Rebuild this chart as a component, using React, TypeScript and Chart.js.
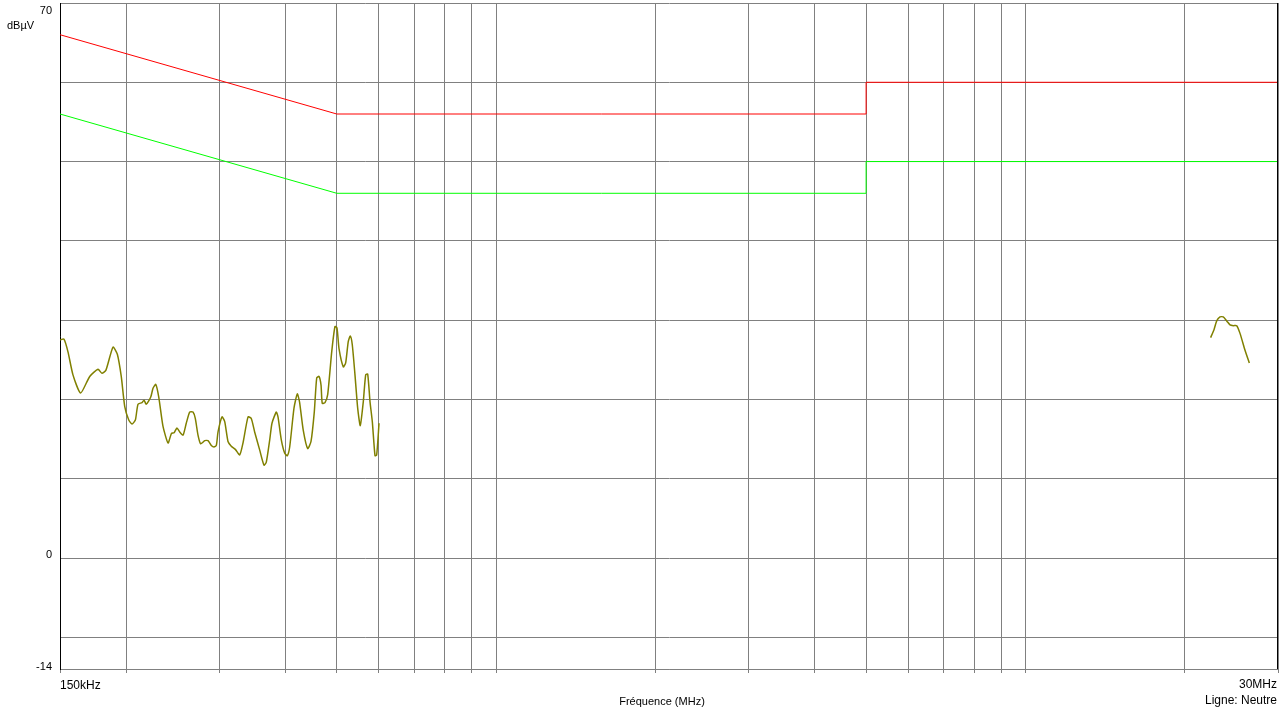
import React, { useEffect, useRef } from 'react';
import { Chart, registerables } from 'chart.js';

Chart.register(...registerables);

// Limit lines (MHz, dBµV)
const limitQPFreq = [0.15, 0.5, 5, 5, 30];
const limitQPLevel = [66, 56, 56, 60, 60];
const limitAVFreq = [0.15, 0.5, 5, 5, 30];
const limitAVLevel = [56, 46, 46, 50, 50];

// Measured trace, low band (MHz, dBµV)
const traceLowFreq = [
  0.150, 0.1526, 0.1553, 0.1587, 0.1641, 0.1707, 0.1770, 0.1800, 0.1832, 0.1889,
  0.1925, 0.1958, 0.1988, 0.2023, 0.2052, 0.2082, 0.2106, 0.2143, 0.2162, 0.2183,
  0.2226, 0.2248, 0.2275, 0.2305, 0.2348, 0.2400, 0.2435, 0.2464, 0.2495, 0.2525,
  0.2562, 0.2598, 0.2637, 0.2675, 0.2702, 0.2734, 0.2766, 0.2815, 0.2856, 0.2897,
  0.2931, 0.2961, 0.2983, 0.3035, 0.3071, 0.3115, 0.3160, 0.3216, 0.3278, 0.3325,
  0.3399, 0.3447, 0.3498, 0.3576, 0.3643, 0.3680, 0.3735, 0.3772, 0.3843, 0.3872,
  0.3928, 0.3987, 0.4032, 0.4074, 0.4151, 0.4211, 0.4252, 0.4322, 0.4406, 0.4470,
  0.4534, 0.4582, 0.4628, 0.4669, 0.4694, 0.4750, 0.4806, 0.4891, 0.4961, 0.5005,
  0.5049, 0.5144, 0.5197, 0.5256, 0.5303, 0.5349, 0.5412, 0.5476, 0.5538, 0.5611,
  0.5670, 0.5720, 0.5778, 0.5836, 0.5905, 0.5948, 0.6009,
];
const traceLowLevel = [
  27.5, 27.6, 26.0, 23.1, 20.8, 22.9, 23.8, 23.3, 23.7, 26.6,
  25.7, 22.9, 19.1, 17.4, 16.9, 17.4, 19.4, 19.6, 19.9, 19.4,
  20.3, 21.4, 21.9, 20.3, 16.6, 14.5, 15.7, 15.8, 16.4, 15.9,
  15.5, 17.0, 18.4, 18.4, 17.6, 15.5, 14.4, 14.8, 14.8, 14.2,
  14.0, 14.2, 15.9, 17.8, 17.2, 14.7, 14.1, 13.7, 13.0, 14.5,
  17.8, 17.6, 15.9, 13.6, 11.7, 12.1, 14.9, 17.0, 18.4, 17.8,
  14.9, 13.2, 12.9, 14.0, 18.9, 20.7, 19.7, 16.1, 13.8, 14.7,
  18.4, 22.7, 22.9, 21.8, 19.5, 19.6, 20.6, 26.0, 29.2, 29.0,
  26.4, 24.1, 24.6, 27.3, 28.0, 26.9, 23.1, 18.9, 16.7, 19.7,
  23.1, 23.2, 19.7, 17.2, 12.9, 13.0, 17.0,
];

// Measured trace, high band (MHz, dBµV)
const traceHighFreq = [22.38, 22.71, 22.98, 23.31, 23.64, 24.0, 24.35, 24.7, 25.07, 25.44, 25.99, 26.48];
const traceHighLevel = [27.8, 28.8, 29.9, 30.4, 30.4, 29.9, 29.4, 29.3, 29.3, 28.3, 26.2, 24.6];

// Axes
const xMin = 0.15;
const xMax = 30;
const yMin = -14;
const yMax = 70;
const xGridTicks = [0.15, 0.2, 0.3, 0.4, 0.5, 0.6, 0.7, 0.8, 0.9, 1, 2, 3, 4, 5, 6, 7, 8, 9, 10, 20, 30];
const yGridTicks = [-14, -10, 0, 10, 20, 30, 40, 50, 60, 70];
const yLabelValues = [70, 0, -14];
const xStartLabel = '150kHz';
const xEndLabel = '30MHz';
const xTitle = 'Fréquence (MHz)';
const yUnit = 'dBµV';
const lineLabel = 'Ligne: Neutre';

const toPoints = (xs: number[], ys: number[]) => xs.map((x, i) => ({ x, y: ys[i] }));

const FONT = '"Liberation Sans", Arial, Helvetica, sans-serif';

const textPlugin = {
  id: 'emcText',
  afterDraw(chart: any) {
    const { ctx, chartArea, scales } = chart;
    const xs = scales.x;
    const ys = scales.y;
    ctx.save();
    // frame: right border in black
    ctx.strokeStyle = '#000000';
    ctx.lineWidth = 1;
    ctx.beginPath();
    ctx.moveTo(Math.round(chartArea.right) - 0.5, chartArea.top);
    ctx.lineTo(Math.round(chartArea.right) - 0.5, chartArea.bottom);
    ctx.stroke();

    ctx.fillStyle = '#000000';
    ctx.font = `11px ${FONT}`;
    ctx.textAlign = 'right';
    ctx.textBaseline = 'middle';
    yLabelValues.forEach((v) => {
      let off = -3;
      if (v === yMax) off = 8;
      if (v === yMin) off = -2;
      ctx.fillText(String(v), chartArea.left - 8, ys.getPixelForValue(v) + off);
    });
    ctx.textAlign = 'left';
    ctx.fillText(yUnit, 7, chartArea.top + 23);

    ctx.font = `12px ${FONT}`;
    ctx.textAlign = 'left';
    ctx.fillText(xStartLabel, xs.getPixelForValue(xMin), chartArea.bottom + 17);
    ctx.textAlign = 'right';
    ctx.fillText(xEndLabel, xs.getPixelForValue(xMax) - 1, chartArea.bottom + 16);
    ctx.fillText(lineLabel, xs.getPixelForValue(xMax) - 1, chartArea.bottom + 32);
    ctx.font = `11px ${FONT}`;
    ctx.textAlign = 'center';
    ctx.fillText(xTitle, (chartArea.left + chartArea.right) / 2 - 7, chartArea.bottom + 33);
    ctx.restore();
  },
};

export default function App() {
  const canvasRef = useRef<HTMLCanvasElement | null>(null);

  useEffect(() => {
    document.body.style.margin = '0';
    const canvas = canvasRef.current;
    if (!canvas) return;
    const chart = new Chart(canvas, {
      type: 'line',
      data: {
        datasets: [
          {
            label: 'QP limit',
            data: toPoints(limitQPFreq, limitQPLevel),
            borderColor: '#ff0000',
            borderWidth: 1,
            pointRadius: 0,
            fill: false,
            tension: 0,
          },
          {
            label: 'AV limit',
            data: toPoints(limitAVFreq, limitAVLevel),
            borderColor: '#00ff00',
            borderWidth: 1,
            pointRadius: 0,
            fill: false,
            tension: 0,
          },
          {
            label: 'Trace low',
            data: toPoints(traceLowFreq, traceLowLevel),
            borderColor: '#808000',
            borderWidth: 1.5,
            pointRadius: 0,
            fill: false,
            tension: 0.2,
          },
          {
            label: 'Trace high',
            data: toPoints(traceHighFreq, traceHighLevel),
            borderColor: '#808000',
            borderWidth: 1.5,
            pointRadius: 0,
            fill: false,
            tension: 0.2,
          },
        ],
      },
      options: {
        responsive: false,
        animation: false,
        devicePixelRatio: 1,
        layout: { padding: { left: 0, right: 10, top: 3, bottom: 0 } },
        plugins: {
          legend: { display: false },
          tooltip: { enabled: false },
          title: { display: false },
        },
        scales: {
          x: {
            type: 'logarithmic',
            min: xMin,
            max: xMax,
            afterBuildTicks: (scale: any) => {
              scale.ticks = xGridTicks.map((v) => ({ value: v }));
            },
            afterFit: (scale: any) => {
              scale.height = 44;
            },
            ticks: { display: false },
            grid: { color: '#808080', lineWidth: 1, drawTicks: true, tickLength: 4, tickColor: '#808080' },
            border: { display: true, color: '#808080', width: 1 },
          },
          y: {
            type: 'linear',
            min: yMin,
            max: yMax,
            afterBuildTicks: (scale: any) => {
              scale.ticks = yGridTicks.map((v) => ({ value: v }));
            },
            afterFit: (scale: any) => {
              scale.width = 60;
            },
            ticks: { display: false },
            grid: { color: '#808080', lineWidth: 1, drawTicks: false },
            border: { display: true, color: '#000000', width: 1 },
          },
        },
      },
      plugins: [textPlugin],
    });
    return () => {
      chart.destroy();
    };
  }, []);

  return (
    <div style={{ width: 1288, height: 713, overflow: 'hidden', background: '#ffffff' }}>
      <canvas ref={canvasRef} width={1288} height={713} style={{ width: 1288, height: 713, display: 'block' }} />
    </div>
  );
}
